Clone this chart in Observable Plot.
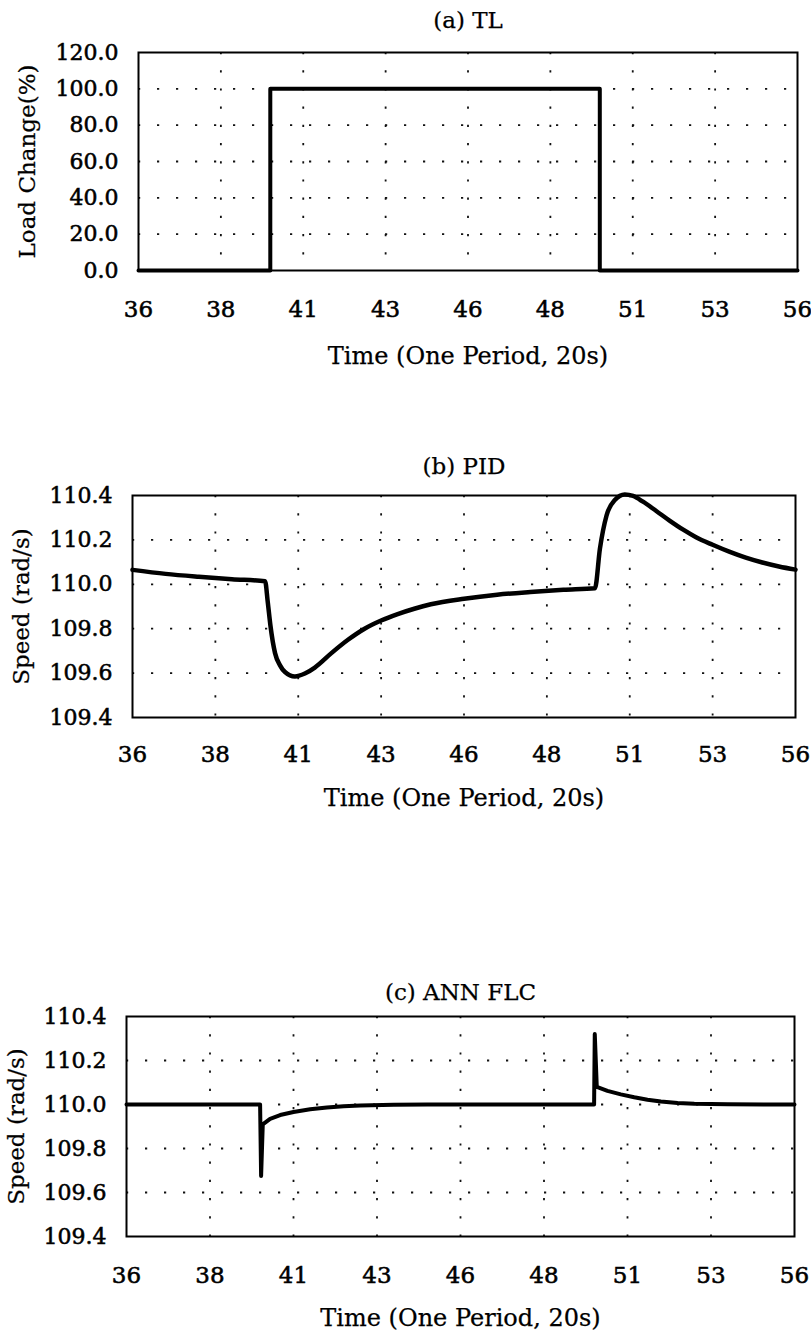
<!DOCTYPE html>
<html>
<head>
<meta charset="utf-8">
<script src="https://cdn.jsdelivr.net/npm/d3@7"></script>
<script src="https://cdn.jsdelivr.net/npm/@observablehq/plot@0.6"></script>
<style>
  html, body { margin: 0; padding: 0; background: white; }
  #wrap { position: relative; width: 811px; height: 1335px; background: white; overflow: hidden; }
  #wrap > svg { position: absolute; left: 0; }
  #wrap g[aria-label$="tick label"] text { stroke: black; stroke-width: 0.55px; }
  #wrap g[aria-label="text"] text { stroke: black; stroke-width: 0.25px; }
</style>
</head>
<body>
<div id="wrap"></div>
<script>
// ---- tick values and labels ----
const timeTicks = [36, 38.5, 41, 43.5, 46, 48.5, 51, 53.5, 56];
const timeTickLabels = ["36", "38", "41", "43", "46", "48", "51", "53", "56"];
const loadTicks = [0, 20, 40, 60, 80, 100, 120];
const loadTickLabels = ["0.0", "20.0", "40.0", "60.0", "80.0", "100.0", "120.0"];
const speedTicks = [109.4, 109.6, 109.8, 110.0, 110.2, 110.4];
const speedTickLabels = ["109.4", "109.6", "109.8", "110.0", "110.2", "110.4"];

// ---- texts ----
const panelTitles = ["(a) TL", "(b) PID", "(c) ANN FLC"];
const xTitle = "Time (One Period, 20s)";
const yTitles = ["Load Change(%)", "Speed (rad/s)", "Speed (rad/s)"];

// ---- (a) load change ----
const tlTime = [36, 40, 40, 50, 50, 56];
const tlLoad = [0, 0, 100, 100, 0, 0];

// ---- (b) PID speed ----
const pidTime = [36, 37, 38, 39, 40, 40.08, 40.16, 40.3, 40.45, 40.6, 40.9, 41.2, 41.5, 42, 42.5, 43, 43.5, 44, 44.5, 45, 46, 47, 48, 49, 49.95,
  50.1, 50.3, 50.55, 50.85, 51.1, 51.4, 51.8, 52.2, 52.6, 53, 53.5, 54, 54.5, 55, 55.5, 56];
const pidSpeed = [110.065, 110.047, 110.034, 110.023, 110.014, 109.92, 109.815, 109.69, 109.635, 109.605, 109.585, 109.598, 109.625, 109.69, 109.75, 109.80, 109.837, 109.866, 109.89, 109.91, 109.935, 109.953, 109.965, 109.975, 109.982,
  110.16, 110.31, 110.38, 110.405, 110.398, 110.372, 110.33, 110.287, 110.247, 110.212, 110.178, 110.147, 110.12, 110.098, 110.08, 110.066];

// ---- (c) ANN FLC speed ----
const annTime = [36, 40, 40.03, 40.08, 40.3, 40.6, 41, 41.5, 42, 42.5, 43, 44, 45, 50, 50.02, 50.08, 50.4, 50.8, 51.2, 51.6, 52, 52.5, 53, 54, 56];
const annSpeed = [110.0, 110.0, 109.675, 109.91, 109.935, 109.952, 109.966, 109.978, 109.986, 109.992, 109.996, 109.999, 110.0, 110.0, 110.32, 110.08, 110.062, 110.046, 110.033, 110.022, 110.014, 110.007, 110.003, 110.001, 110.0];

const FONT = "'DejaVu Serif', 'Liberation Serif', serif";

function panel(cfg) {
  const data = cfg.xs.map((x, i) => ({x, y: cfg.ys[i]}));
  const height = cfg.svgBottom - cfg.svgTop;
  const yTickMap = new Map(cfg.yTicks.map((t, i) => [t, cfg.yLabels[i]]));
  const xTickMap = new Map(timeTicks.map((t, i) => [t, timeTickLabels[i]]));
  const svg = Plot.plot({
    width: 811,
    height,
    marginLeft: cfg.left,
    marginRight: 811 - cfg.right,
    marginTop: cfg.frameTop - cfg.svgTop,
    marginBottom: cfg.svgBottom - cfg.frameBottom,
    style: {fontFamily: FONT, fontSize: "23px", color: "black", background: "white", overflow: "visible"},
    x: {domain: [36, 56]},
    y: {domain: cfg.yDomain},
    marks: [
      Plot.gridY(cfg.yTicks.slice(1, -1), {stroke: "#111", strokeOpacity: 1, strokeWidth: 1.8, strokeDasharray: "2.2,16.8"}),
      Plot.gridX(timeTicks.slice(1, -1), {stroke: "#111", strokeOpacity: 1, strokeWidth: 1.8, strokeDasharray: "2.2,16"}),
      Plot.frame({stroke: "black", strokeWidth: 2}),
      Plot.line(data, {x: "x", y: "y", stroke: "black", strokeWidth: cfg.lineWidth, strokeLinejoin: "round", curve: cfg.curve || "linear"}),
      Plot.axisX(timeTicks, {tickSize: 0, tickPadding: cfg.xPad, tickFormat: d => xTickMap.get(d), label: null, fontSize: 23}),
      Plot.axisY(cfg.yTicks, {tickSize: 0, tickPadding: 20, tickFormat: d => yTickMap.get(d), label: null, fontSize: 22}),
      Plot.text([cfg.title], {frameAnchor: "top", lineAnchor: "middle", textAnchor: "middle", dy: cfg.titleDy, fontSize: 23, fill: "black"}),
      Plot.text([xTitle], {frameAnchor: "bottom", lineAnchor: "middle", textAnchor: "middle", dy: cfg.xTitleDy, fontSize: 24, fill: "black"}),
      Plot.text([cfg.yTitle], {frameAnchor: "left", lineAnchor: "middle", textAnchor: "middle", dx: cfg.yTitleDx, rotate: -90, fontSize: 23, fill: "black"})
    ]
  });
  svg.style.top = cfg.svgTop + "px";
  document.getElementById("wrap").appendChild(svg);
}

panel({xs: tlTime, ys: tlLoad, yTicks: loadTicks, yLabels: loadTickLabels, yDomain: [0, 120],
  svgTop: 0, svgBottom: 380, frameTop: 52, frameBottom: 270, left: 138, right: 797,
  lineWidth: 4, xPad: 30, title: panelTitles[0], titleDy: -32, xTitleDy: 86, yTitle: yTitles[0], yTitleDx: -111});

panel({xs: pidTime, ys: pidSpeed, yTicks: speedTicks, yLabels: speedTickLabels, yDomain: [109.4, 110.4],
  svgTop: 420, svgBottom: 827, frameTop: 495, frameBottom: 717, left: 132, right: 795,
  lineWidth: 4.5, curve: "monotone-x", xPad: 28, title: panelTitles[1], titleDy: -29, xTitleDy: 81, yTitle: yTitles[1], yTitleDx: -111});

panel({xs: annTime, ys: annSpeed, yTicks: speedTicks, yLabels: speedTickLabels, yDomain: [109.4, 110.4],
  svgTop: 950, svgBottom: 1335, frameTop: 1016, frameBottom: 1236, left: 126, right: 794,
  lineWidth: 4, xPad: 30, title: panelTitles[2], titleDy: -24, xTitleDy: 82, yTitle: yTitles[2], yTitleDx: -110});
</script>
</body>
</html>
